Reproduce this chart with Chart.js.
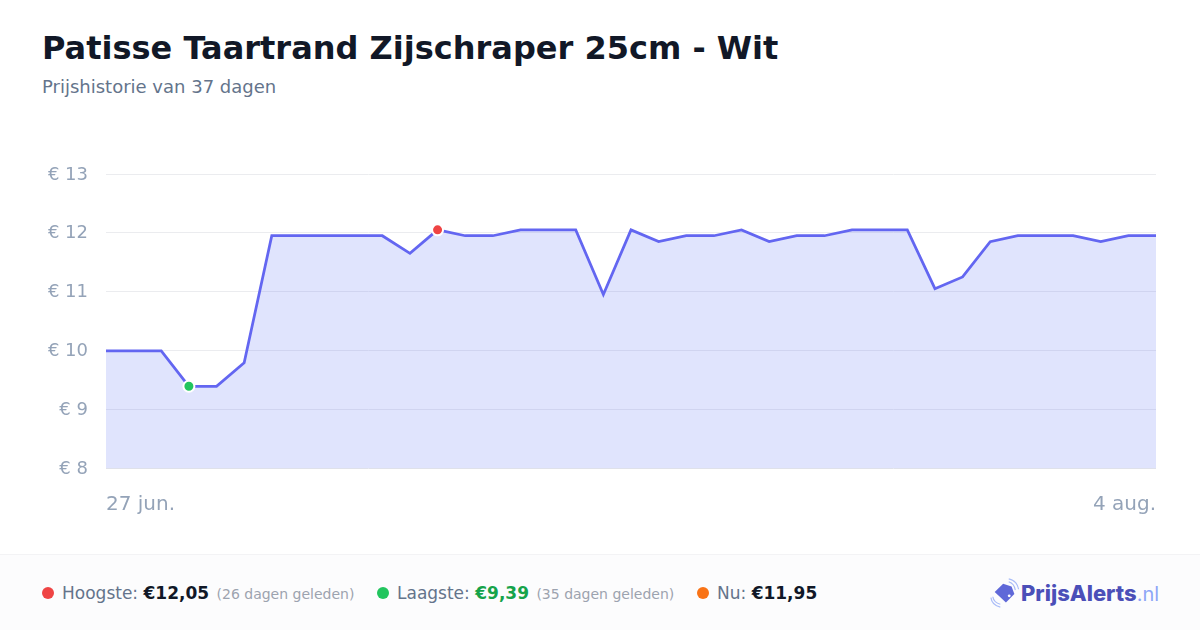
<!DOCTYPE html>
<html lang="nl">
<head>
<meta charset="utf-8">
<script src="https://cdn.jsdelivr.net/npm/chart.js@4"></script>
<style>
html,body{margin:0;padding:0;background:#fff;width:1200px;height:630px;overflow:hidden;font-family:"DejaVu Sans",sans-serif}
#title{position:absolute;left:42px;top:27px;font-size:32px;line-height:42px;font-weight:700;color:#111827;white-space:nowrap}
#sub{position:absolute;left:42px;top:76px;font-size:18px;line-height:22px;color:#64748b;white-space:nowrap}
#wrap{position:absolute;left:0;top:0;width:1200px;height:550px}
#foot{position:absolute;left:0;top:554px;width:1200px;height:76px;background:#fcfcfd;border-top:1px solid #f3f3f5;box-sizing:border-box}
.s{position:absolute;top:0;line-height:76px;font-size:17px;color:#64748b;white-space:nowrap}
.s b{color:#111827}
.s small{font-size:14px;color:#9ca3af;margin-left:2px}
.d{position:absolute;top:32px;width:12px;height:12px;border-radius:50%}
#logo{position:absolute;left:1021px;top:0;line-height:76px;font-family:Inter,Roboto,sans-serif;font-size:22px;font-weight:800;color:#4b4fb8;white-space:nowrap}
#logo span{font-weight:400;font-size:20px;color:#8ea6f7}
svg{position:absolute;left:990px;top:23px}
</style>
</head>
<body>
<div id="title">Patisse Taartrand Zijschraper 25cm - Wit</div>
<div id="sub">Prijshistorie van 37 dagen</div>
<div id="wrap"><canvas id="c" width="1200" height="550"></canvas></div>
<div id="foot">
  <div class="d" style="left:42px;background:#ef4444"></div>
  <div class="s" style="left:62px">Hoogste: <b>€12,05</b> <small>(26 dagen geleden)</small></div>
  <div class="d" style="left:377px;background:#22c55e"></div>
  <div class="s" style="left:397px">Laagste: <b style="color:#16a34a">€9,39</b> <small>(35 dagen geleden)</small></div>
  <div class="d" style="left:697px;background:#f97316"></div>
  <div class="s" style="left:717px">Nu: <b>€11,95</b></div>
  <svg width="30" height="30" viewBox="0 0 32 32">
    <path d="M5 15 L14 6 L23 9 L26 17 L17 26 Z" fill="#5f68d8"/>
    <circle cx="20.500" cy="19" r="1.500" fill="#fff"/>
    <path d="M20 4 Q26 6 27 13 M20 1 Q29 3 30.500 12 M3 20 Q4 26 11 28 M1 21 Q2 29 11 31" fill="none" stroke="#a9bcf8" stroke-width="1.300"/>
  </svg>
  <div id="logo">PrijsAlerts<span>.nl</span></div>
</div>
<script>
const categories = ["27 jun.","28 jun.","29 jun.","30 jun.","1 jul.","2 jul.","3 jul.","4 jul.","5 jul.","6 jul.","7 jul.","8 jul.","9 jul.","10 jul.","11 jul.","12 jul.","13 jul.","14 jul.","15 jul.","16 jul.","17 jul.","18 jul.","19 jul.","20 jul.","21 jul.","22 jul.","23 jul.","24 jul.","25 jul.","26 jul.","27 jul.","28 jul.","29 jul.","30 jul.","31 jul.","1 aug.","2 aug.","3 aug.","4 aug."];
const prices = [9.99,9.99,9.99,9.39,9.39,9.79,11.95,11.95,11.95,11.95,11.95,11.65,12.05,11.95,11.95,12.05,12.05,12.05,10.95,12.05,11.85,11.95,11.95,12.05,11.85,11.95,11.95,12.05,12.05,12.05,11.05,11.25,11.85,11.95,11.95,11.95,11.85,11.95,11.95];
const yTicks = [8,9,10,11,12,13];
const highIndex = 12;
const lowIndex = 3;

new Chart(document.getElementById('c'), {
  type: 'line',
  data: {
    labels: categories,
    datasets: [{
      data: prices,
      borderColor: '#6366f1',
      backgroundColor: 'rgba(99,120,246,0.2)',
      borderWidth: 2.75,
      fill: true,
      tension: 0,
      pointRadius: c => (c.dataIndex === highIndex || c.dataIndex === lowIndex) ? 5.5 : 0,
      pointBackgroundColor: c => c.dataIndex === highIndex ? '#ef4444' : '#22c55e',
      pointBorderColor: '#ffffff',
      pointBorderWidth: 2
    }]
  },
  options: {
    responsive: false,
    animation: false,
    layout: { padding: { left: 42, right: 44, top: 174, bottom: 32 } },
    plugins: { legend: { display: false }, tooltip: { enabled: false } },
    scales: {
      x: {
        grid: { display: false },
        border: { display: false },
        afterFit: s => { s.height = 50; },
        ticks: {
          autoSkip: false, maxRotation: 0, minRotation: 0, align: 'inner', padding: 17,
          color: '#94a3b8', font: { family: 'DejaVu Sans', size: 20 },
          callback: (v, i) => (i === 0 || i === categories.length - 1) ? categories[i] : ''
        }
      },
      y: {
        min: 8, max: 13,
        afterBuildTicks: s => { s.ticks = yTicks.map(value => ({ value })); },
        afterFit: s => { s.width = 64; },
        grid: { color: c => c.tick.value === 8 ? '#dfe1ea' : '#ebecef', lineWidth: 1, drawTicks: false },
        border: { display: false },
        ticks: {
          padding: 18, labelOffset: 1, color: '#94a3b8', font: { family: 'DejaVu Sans', size: 18 },
          callback: v => '€ ' + v
        }
      }
    }
  }
});
</script>
</body>
</html>
